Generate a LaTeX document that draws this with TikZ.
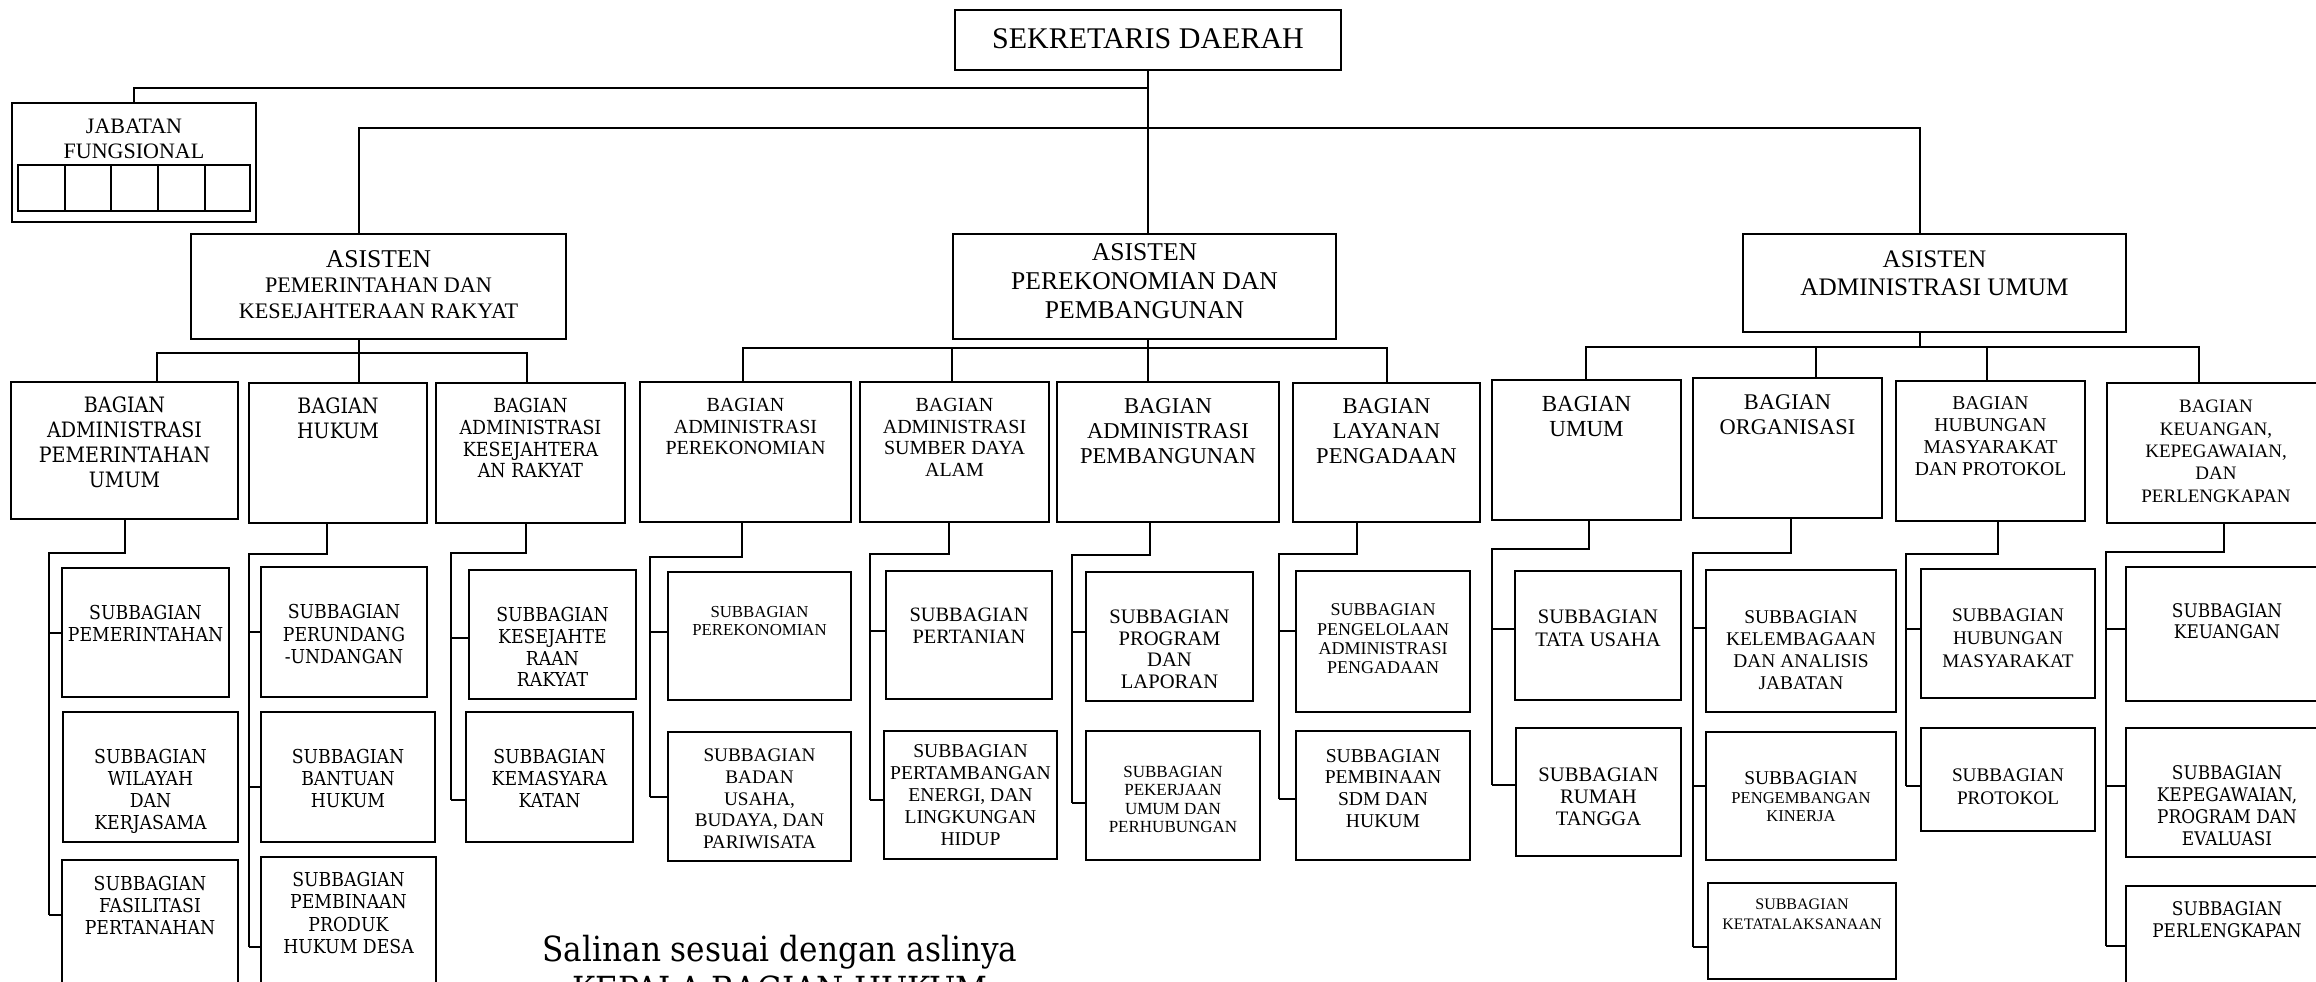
\documentclass[tikz,border=0pt]{standalone}
\usepackage{fontspec}
\setmainfont{Liberation Serif}
\newfontfamily\tms{Liberation Serif}
\newfontfamily\bkm[FakeStretch=0.9]{DejaVu Serif}
\usetikzlibrary{calc}
\newcommand\fs[2]{\fontsize{#1}{#2}\selectfont}
\newcommand\ob[8]{%
  \node[box, minimum width={(#4-#2)*0.5pt}, minimum height={(#5-#3)*0.5pt}] (#1) at ({(#2+#4)/2},{(#3+#5)/2}) {};
  \node[tx, font={#7}] (#1t) at ({(#2+#4)/2},#6) {#8};}
\newcommand\tk[3]{\path (#2.west) ++(0,#3) coordinate (#2k); \draw[ln] (#1 |- #2k) -- (#2k);}
\begin{document}
\begin{tikzpicture}[x=0.5pt,y=-0.5pt,
  box/.style={draw,line width=1.1pt,inner sep=0pt,outer sep=0pt,rectangle},
  tx/.style={inner sep=0pt,align=center,anchor=north},
  ln/.style={line width=1pt}]
\useasboundingbox (0,0) rectangle (2316,981);
\clip (0,0) rectangle (2316,981);
\fill[white] (0,0) rectangle (2316,981);

% top level
\ob{sekda}{955}{10}{1341}{70}{28.5}{\tms\fs{15}{17}}{SEKRETARIS DAERAH}
\ob{jab}{12}{103}{256}{222}{118.5}{\tms\fs{11}{12.5}}{JABATAN\\FUNGSIONAL}
\draw[ln] (18,165) rectangle (250,211);
\foreach \gx in {65,111,158,205} \draw[ln] (\gx,165) -- (\gx,211);

\ob{a1}{191}{234}{566}{339}{250}{\tms\fs{11.1}{12.7}}{{\fs{12.8}{12.7}ASISTEN}\\PEMERINTAHAN DAN\\KESEJAHTERAAN RAKYAT}
\ob{a2}{953}{234}{1336}{339}{243}{\tms\fs{12.8}{14.5}}{ASISTEN\\PEREKONOMIAN DAN\\PEMBANGUNAN}
\ob{a3}{1743}{234}{2126}{332}{250.4}{\tms\fs{12.6}{14}}{ASISTEN\\ADMINISTRASI UMUM}

% bagian
\ob{B1}{11}{382}{238}{519}{396.5}{\bkm\fs{10.6}{12.5}}{BAGIAN\\ADMINISTRASI\\PEMERINTAHAN\\UMUM}
\ob{B2}{249}{383}{427}{523}{397.5}{\bkm\fs{10.6}{12.5}}{BAGIAN\\HUKUM}
\ob{B3}{436}{383}{625}{523}{398}{\bkm\fs{9.7}{10.8}}{BAGIAN\\ADMINISTRASI\\KESEJAHTERA\\AN RAKYAT}
\ob{B4}{640}{382}{851}{522}{398.3}{\tms\fs{10}{10.75}}{BAGIAN\\ADMINISTRASI\\PEREKONOMIAN}
\ob{B5}{860}{382}{1049}{522}{398.3}{\tms\fs{10}{10.75}}{BAGIAN\\ADMINISTRASI\\SUMBER DAYA\\ALAM}
\ob{B6}{1057}{382}{1279}{522}{398.6}{\tms\fs{11.3}{12.5}}{BAGIAN\\ADMINISTRASI\\PEMBANGUNAN}
\ob{B7}{1293}{383}{1480}{522}{398.6}{\tms\fs{11.3}{12.5}}{BAGIAN\\LAYANAN\\PENGADAAN}
\ob{B8}{1492}{380}{1681}{520}{396.3}{\tms\fs{11.5}{12.25}}{BAGIAN\\UMUM}
\ob{B9}{1693}{378}{1882}{518}{394.7}{\tms\fs{11.2}{12.3}}{BAGIAN\\ORGANISASI}
\ob{B10}{1896}{381}{2085}{521}{396.6}{\tms\fs{9.8}{11}}{BAGIAN\\HUBUNGAN\\MASYARAKAT\\DAN PROTOKOL}
\ob{B11}{2107}{383}{2325}{523}{400}{\tms\fs{9.5}{11.15}}{BAGIAN\\KEUANGAN,\\KEPEGAWAIAN,\\DAN\\PERLENGKAPAN}

% subbagian
\ob{S1}{62}{568}{229}{697}{605}{\bkm\fs{9.6}{11}}{SUBBAGIAN\\PEMERINTAHAN}
\ob{S2}{63}{712}{238}{842}{749}{\bkm\fs{9.6}{11}}{SUBBAGIAN\\WILAYAH\\DAN\\KERJASAMA}
\ob{S3}{62}{860}{238}{1000}{875.5}{\bkm\fs{9.6}{11}}{SUBBAGIAN\\FASILITASI\\PERTANAHAN}
\ob{S4}{261}{567}{427}{697}{604}{\bkm\fs{9.6}{11.2}}{SUBBAGIAN\\PERUNDANG\\-UNDANGAN}
\ob{S5}{261}{712}{435}{842}{749}{\bkm\fs{9.6}{11}}{SUBBAGIAN\\BANTUAN\\HUKUM}
\ob{S6}{261}{857}{436}{1000}{872}{\bkm\fs{9.6}{11.15}}{SUBBAGIAN\\PEMBINAAN\\PRODUK\\HUKUM DESA}
\ob{S7}{469}{570}{636}{699}{607}{\bkm\fs{9.6}{10.85}}{SUBBAGIAN\\KESEJAHTE\\RAAN\\RAKYAT}
\ob{S8}{466}{712}{633}{842}{749}{\bkm\fs{9.6}{11}}{SUBBAGIAN\\KEMASYARA\\KATAN}
\ob{S9}{668}{572}{851}{700}{605.5}{\tms\fs{8.4}{9.2}}{SUBBAGIAN\\PEREKONOMIAN}
\ob{S10}{668}{732}{851}{861}{748.3}{\tms\fs{9.6}{10.9}}{SUBBAGIAN\\BADAN\\USAHA,\\BUDAYA, DAN\\PARIWISATA}
\ob{S11}{886}{571}{1052}{699}{607.5}{\tms\fs{10.2}{11}}{SUBBAGIAN\\PERTANIAN}
\ob{S12}{884}{731}{1057}{859}{744}{\tms\fs{9.8}{11}}{SUBBAGIAN\\PERTAMBANGAN\\ENERGI, DAN\\LINGKUNGAN\\HIDUP}
\ob{S13}{1086}{572}{1253}{701}{609.4}{\tms\fs{10.3}{10.8}}{SUBBAGIAN\\PROGRAM\\DAN\\LAPORAN}
\ob{S14}{1086}{731}{1260}{860}{765.8}{\tms\fs{8.5}{9.2}}{SUBBAGIAN\\PEKERJAAN\\UMUM DAN\\PERHUBUNGAN}
\ob{S15}{1296}{571}{1470}{712}{603.6}{\tms\fs{9}{9.6}}{SUBBAGIAN\\PENGELOLAAN\\ADMINISTRASI\\PENGADAAN}
\ob{S16}{1296}{731}{1470}{860}{749}{\tms\fs{9.8}{10.8}}{SUBBAGIAN\\PEMBINAAN\\SDM DAN\\HUKUM}
\ob{S17}{1515}{571}{1681}{700}{609.4}{\tms\fs{10.3}{11.5}}{SUBBAGIAN\\TATA USAHA}
\ob{S18}{1516}{728}{1681}{856}{767}{\tms\fs{10.3}{11.2}}{SUBBAGIAN\\RUMAH\\TANGGA}
\ob{S19}{1706}{570}{1896}{712}{609.8}{\tms\fs{9.7}{11}}{SUBBAGIAN\\KELEMBAGAAN\\DAN ANALISIS\\JABATAN}
\ob{S20}{1706}{732}{1896}{860}{771.7}{\tms\fs{8.3}{9.2}}{{\fs{9.7}{9.2}SUBBAGIAN}\\PENGEMBANGAN\\KINERJA}
\ob{S21}{1708}{883}{1896}{979}{898.4}{\tms\fs{8}{10.25}}{SUBBAGIAN\\KETATALAKSANAAN}
\ob{S22}{1921}{569}{2095}{698}{608.3}{\tms\fs{9.6}{11.5}}{SUBBAGIAN\\HUBUNGAN\\MASYARAKAT}
\ob{S23}{1921}{728}{2095}{831}{768}{\tms\fs{9.6}{11.5}}{SUBBAGIAN\\PROTOKOL}
\ob{S24}{2126}{567}{2328}{701}{603.3}{\bkm\fs{9.4}{10.5}}{SUBBAGIAN\\KEUANGAN}
\ob{S25}{2126}{728}{2328}{857}{765.3}{\bkm\fs{9.4}{11}}{SUBBAGIAN\\KEPEGAWAIAN,\\PROGRAM DAN\\EVALUASI}
\ob{S26}{2126}{886}{2328}{1000}{901.3}{\bkm\fs{9.4}{11}}{SUBBAGIAN\\PERLENGKAPAN}

% top connectors
\coordinate (J) at (134,88);
\coordinate (H1) at (359,128);
\coordinate (H3) at (1920,128);
\draw[ln] (sekda.south) -- (sekda.south |- a2.north);
\draw[ln] (jab.north) |- (sekda.south |- J);
\draw[ln] (a1.north -| H1) -- (H1) -- (H3) -- (a3.north -| H3);

% asisten 1 bus
\coordinate (R1a) at (157,353);
\coordinate (R1c) at (527,353);
\draw[ln] (B1.north -| R1a) -- (R1a) -- (R1c) -- (B3.north -| R1c);
\draw[ln] (a1.south -| H1) -- (B2.north -| H1);
% asisten 2 bus
\coordinate (R2a) at (743,348);
\coordinate (R2b) at (952,348);
\coordinate (R2d) at (1387,348);
\draw[ln] (B4.north -| R2a) -- (R2a) -- (R2d) -- (B7.north -| R2d);
\draw[ln] (R2b) -- (B5.north -| R2b);
\draw[ln] (a2.south -| sekda.south) -- (B6.north -| sekda.south);
% asisten 3 bus
\coordinate (R3a) at (1586,347);
\coordinate (R3b) at (1816,347);
\coordinate (R3c) at (1987,347);
\coordinate (R3d) at (2199,347);
\draw[ln] (B8.north -| R3a) -- (R3a) -- (R3d) -- (B11.north -| R3d);
\draw[ln] (R3b) -- (B9.north -| R3b);
\draw[ln] (R3c) -- (B10.north -| R3c);
\draw[ln] (a3.south -| H3) -- (H3 |- R3a);

% subbagian trees
\coordinate (K1) at (125,553); \coordinate (V1) at (48.5,553);
\tk{V1}{S1}{0} \tk{V1}{S3}{-15}
\draw[ln] (B1.south -| K1) -- (K1) -- (V1) -- (V1 |- S3k);

\coordinate (K2) at (327,554); \coordinate (V2) at (249,554);
\tk{V2}{S4}{0} \tk{V2}{S5}{10} \tk{V2}{S6}{18.5}
\draw[ln] (B2.south -| K2) -- (K2) -- (V2) -- (V2 |- S6k);

\coordinate (K3) at (526,553); \coordinate (V3) at (451,553);
\tk{V3}{S7}{3.5} \tk{V3}{S8}{23}
\draw[ln] (B3.south -| K3) -- (K3) -- (V3) -- (V3 |- S8k);

\coordinate (K4) at (742,557); \coordinate (V4) at (650,557);
\tk{V4}{S9}{-4} \tk{V4}{S10}{0}
\draw[ln] (B4.south -| K4) -- (K4) -- (V4) -- (V4 |- S10k);

\coordinate (K5) at (949,554); \coordinate (V5) at (870,554);
\tk{V5}{S11}{-4} \tk{V5}{S12}{5}
\draw[ln] (B5.south -| K5) -- (K5) -- (V5) -- (V5 |- S12k);

\coordinate (K6) at (1150,555); \coordinate (V6) at (1072,555);
\tk{V6}{S13}{-4.5} \tk{V6}{S14}{7.5}
\draw[ln] (B6.south -| K6) -- (K6) -- (V6) -- (V6 |- S14k);

\coordinate (K7) at (1357,554); \coordinate (V7) at (1279,554);
\tk{V7}{S15}{-10.5} \tk{V7}{S16}{3.5}
\draw[ln] (B7.south -| K7) -- (K7) -- (V7) -- (V7 |- S16k);

\coordinate (K8) at (1589,549); \coordinate (V8) at (1492,549);
\tk{V8}{S17}{-6.5} \tk{V8}{S18}{-7}
\draw[ln] (B8.south -| K8) -- (K8) -- (V8) -- (V8 |- S18k);

\coordinate (K9) at (1791,553); \coordinate (V9) at (1693,553);
\tk{V9}{S19}{-13} \tk{V9}{S20}{-10} \tk{V9}{S21}{16}
\draw[ln] (B9.south -| K9) -- (K9) -- (V9) -- (V9 |- S21k);

\coordinate (K10) at (1998,554); \coordinate (V10) at (1906,554);
\tk{V10}{S22}{-4.5} \tk{V10}{S23}{6.5}
\draw[ln] (B10.south -| K10) -- (K10) -- (V10) -- (V10 |- S23k);

\coordinate (K11) at (2224,552); \coordinate (V11) at (2106,552);
\tk{V11}{S24}{-5} \tk{V11}{S25}{-6.5} \tk{V11}{S26}{3}
\draw[ln] (B11.south -| K11) -- (K11) -- (V11) -- (V11 |- S26k);

% note
\node[tx, font=\bkm\fs{17.3}{20}] (salin) at (780,935) {Salinan sesuai dengan aslinya\\KEPALA BAGIAN HUKUM};
\end{tikzpicture}
\end{document}
